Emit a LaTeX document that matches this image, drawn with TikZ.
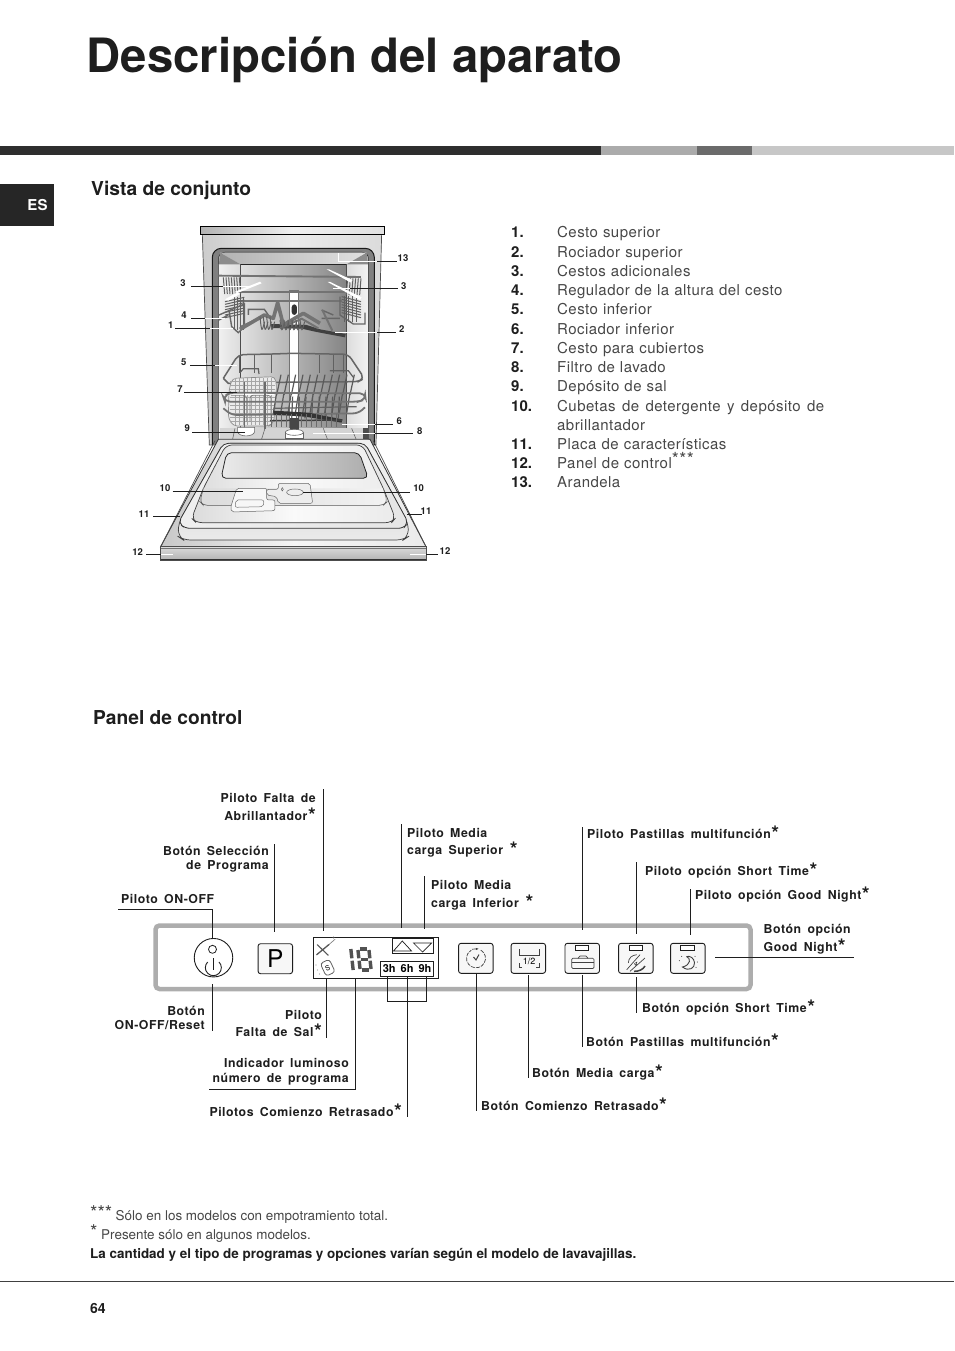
\documentclass[tikz,border=0pt]{standalone}
\usepackage{fontspec}
\setmainfont{TeX Gyre Heros}
\newfontfamily\labf[LetterSpace=4.5,WordSpace=1.6]{TeX Gyre Heros}
\newfontfamily\bodyf[LetterSpace=3,WordSpace=1.1]{TeX Gyre Heros}
\usetikzlibrary{calc,arrows.meta}
\definecolor{ink}{HTML}{1E1E1E}
\tikzset{
 leader/.style={draw=ink,line width=.8pt},
 wl/.style={draw=white,line width=.9pt},
 num/.style={font=\fontsize{9.5}{10}\selectfont\bfseries,inner sep=0pt,text=ink},
 lab/.style={font=\labf\fontsize{12.3}{14}\selectfont\bfseries,inner sep=0pt,text=ink,anchor=base west},
 labr/.style={lab,anchor=base east},
 li/.style={font=\bodyf\fontsize{15}{18}\selectfont,inner sep=0pt,anchor=base west,text=black!72},
 lin/.style={font=\fontsize{15}{18}\selectfont\bfseries,inner sep=0pt,anchor=base west,text=ink},
 head/.style={font=\fontsize{19.2}{22}\selectfont\bfseries,inner sep=0pt,anchor=base west,text=ink},
 foot/.style={font=\fontsize{13.45}{15}\selectfont,inner sep=0pt,anchor=base west,text=black!72},
 btn/.style={draw=ink,line width=.9pt,rounded corners=2.5pt,minimum width=34.5pt,minimum height=30pt,inner sep=0pt,fill=white!97!black},
 ind/.style={draw=ink,line width=.8pt,minimum width=13.5pt,minimum height=5pt,inner sep=0pt,fill=white},
 ico/.style={draw=ink!85,line width=.7pt},
 wire/.style={draw=black!62,line width=.8pt},
 wireb/.style={draw=black!60,line width=1.4pt},
 rail/.style={draw=black!55,line width=1.8pt},
 tine/.style={draw=black!65,line width=1.2pt},
}
\newcommand{\st}{\raisebox{-2pt}{\kern.5pt\fontsize{20}{20}\selectfont *}}
\newcommand{\vl}[4]{\coordinate (#1a) at (#2,#3); \coordinate (#1b) at (#2,#4); \draw[leader] (#1a) -- (#1b);}
\newcommand{\hl}[5][leader]{\coordinate (#2a) at (#3,#5); \coordinate (#2b) at (#4,#5); \draw[#1] (#2a) -- (#2b);}
\begin{document}
\begin{tikzpicture}[x=1pt,y=-1pt]
\useasboundingbox (0,0) rectangle (954,1351);
\fill[white] (0,0) rectangle (954,1351);
% Title & bars
\node[font=\fontsize{47.3}{52}\selectfont\bfseries,inner sep=0pt,anchor=base west,text=ink] (title) at (86.5,73) {Descripción del aparato};
\fill[black!82] (0,146) rectangle (601,155);
\fill[black!33] (601,146) rectangle (697,155);
\fill[black!58] (697,146) rectangle (752,155);
\fill[black!22] (752,146) rectangle (954,155);
\node[fill=black!85,minimum width=54pt,minimum height=42pt,inner sep=0pt,anchor=north west] (tab) at (0,184) {};
\node[font=\fontsize{15}{16}\selectfont\bfseries,text=white,inner sep=0pt] (es) at (37.5,205) {ES};
\node[head] (h1) at (91,196) {Vista de conjunto};
\node[head] (h2) at (93,724) {Panel de control};
% Dishwasher cabinet and tub
\begin{scope}[shift={(120,215)},x=.3333pt,y=-.3333pt]
 \shade[left color=black!20,right color=black!14,middle color=black!8,draw=black!70,line width=.7pt] (247,58) -- (785,58) -- (768,690) -- (268,690) -- cycle;
 \shade[left color=black!30,right color=black!12,middle color=black!6,draw=black,line width=.8pt] (242,35) rectangle (793,58);
 \filldraw[fill=black!50,draw=black!90,line width=1pt,rounded corners=9pt] (277,690) -- (277,100) -- (763,100) -- (763,690);
 \filldraw[fill=white!88!black,draw=black!85,line width=.7pt,rounded corners=6pt] (296,690) -- (296,112) -- (745,112) -- (745,690);
 \shade[left color=black!6,right color=black!14] (297,148) rectangle (362,672);
 \shade[left color=black!14,right color=black!5] (678,148) rectangle (744,672);
 \shade[left color=black!12,right color=black!48] (362,148) rectangle (678,640);
 \shade[left color=black!30,right color=black!12] (300,113) -- (740,113) -- (680,148) -- (362,148) -- cycle;
 \fill[black!45] (300,113) -- (362,148) -- (297,148) -- cycle;
 \fill[black!45] (740,113) -- (680,148) -- (744,148) -- cycle;
 \draw[black!85,line width=.8pt] (362,148) -- (678,148);
 \draw[black!70,line width=.6pt] (362,148) -- (362,640);
 \draw[black!70,line width=.6pt] (678,148) -- (678,640);
 \fill[white] (509,225) rectangle (536,640);
 \draw[black!55,line width=.5pt] (509,225) -- (509,640) (536,225) -- (536,640) (509,225) -- (536,225);
 \fill[black!80,rounded corners=3pt] (515,268) rectangle (531,300);
 % floor
 \fill[black!17] (300,640) -- (742,640) -- (742,672) -- (300,672) -- cycle;
 \fill[black!70] (730,640) rectangle (744,672);
 \draw[black!60,line width=.6pt] (345,640) -- (338,672) (435,640) -- (425,672) (610,640) -- (622,672) (695,640) -- (708,672);
\end{scope}
% Upper rack: coordinates of a 3x crop at (205,260)
\begin{scope}[shift={(205,260)},x=.3333pt,y=-.3333pt]
 \draw[rail,line width=1.9pt] (40,47) -- (468,51);
 \draw[rail] (95,97) -- (420,97);
 \draw[rail] (95,122) -- (410,122);
 \foreach \i in {55,63,...,105}{\draw[wire,line width=1pt] (\i,52) -- (\i+4,102);}
 \foreach \i in {428,436,...,468}{\draw[wire,line width=1pt] (\i,55) -- (\i-4,105);}
 \foreach \i in {0,8,...,48}{
  \draw[wire,line width=1pt] (60,125+\i) -- (118,112+\i);
  \draw[wire,line width=1pt] (410,110+\i) -- (468,125+\i);
 }
 \foreach \i in {88,97,106,115}{\draw[wire,line width=1pt] (\i,110) -- (\i,210);}
 \foreach \i in {420,432,444,456}{\draw[wire,line width=1pt] (\i,108) -- (\i,185);}
 \draw[wireb] (42,165) -- (118,132) -- (118,200) -- (100,218) -- (80,200) -- (72,150);
 \draw[wireb] (42,180) -- (70,165);
 \draw[wireb] (480,158) -- (480,192) -- (445,192) -- (405,165) -- (405,110);
 \draw[wireb] (130,165) -- (130,148) -- (178,148) -- (190,165);
 \draw[wireb] (350,150) -- (385,165) (350,175) -- (405,175);
 % dark spray arm
 \fill[black!75] (195,192) -- (305,195) -- (345,208) -- (422,222) -- (420,232) -- (335,216) -- (290,206) -- (200,204) -- cycle;
 % zigzag of folding rack
 \draw[black!55,line width=3.6pt,line join=round] (105,208) -- (178,165) -- (205,175) -- (218,128) -- (235,195) -- (295,160) -- (345,190);
 \draw[black!55,line width=2pt] (108,200) -- (165,174) (225,205) -- (290,176) -- (340,205) (352,150) -- (382,212);
 \foreach \i in {165,175,...,195}{\draw[black!62,line width=1pt] (\i,170) .. controls (\i+5,218) .. (\i+14,185);}
 \foreach \i in {225,237,...,285}{\draw[black!62,line width=1pt] (\i,180) .. controls (\i+5,218) .. (\i+14,185);}
 % white highlights
 \fill[white] (85,97) -- (165,65) -- (170,70) -- (100,98) -- cycle;
 \fill[white] (60,118) -- (98,96) -- (105,102) -- (70,122) -- cycle;
 \fill[white] (365,28) -- (372,28) -- (442,60) -- (438,68) -- cycle;
 \fill[white] (368,66) -- (376,66) -- (470,112) -- (465,120) -- cycle;
\end{scope}
% Lower rack: coordinates of a 3x crop at (205,350)
\begin{scope}[shift={(205,350)},x=.3333pt,y=-.3333pt]
 \foreach \i in {105,150,200,345,385,415}{\draw[wire,line width=1pt] (\i,15) -- (\i,68);}
 \draw[wire,line width=1.2pt] (105,68) -- (115,56) -- (160,56) -- (162,72);
 \draw[wire,line width=1.2pt] (375,62) -- (430,62) -- (445,82);
 \draw[wireb,line width=1.5pt,rounded corners=5pt] (55,85) -- (100,14) -- (205,12) -- (260,10) -- (430,13) -- (478,85) -- (460,95) -- (210,97);
 \draw[wireb,line width=1.5pt] (55,85) -- (70,100) -- (85,100);
 % cutlery basket
 \filldraw[fill=white!92!black,draw=black!45,line width=.7pt,rounded corners=4pt] (82,85) -- (210,80) -- (215,110) -- (206,218) -- (192,228) -- (85,228) -- (70,205) -- (72,120) -- cycle;
 \foreach \i in {92,104,...,200}{\draw[black!35,line width=.5pt] (\i,85) -- (\i,225);}
 \foreach \i in {95,107,...,220}{\draw[black!35,line width=.5pt] (74,\i) -- (210,\i);}
 \fill[white] (72,125) rectangle (208,136);
 \draw[black!50,line width=.8pt,rounded corners=3pt] (78,136) -- (125,136) -- (125,215) (135,215) -- (135,136) -- (198,136) -- (198,215);
 % plate tines
 \foreach \i in {215,237,...,435}{\draw[tine] (\i,135) -- (\i+13,74);}
 \foreach \i in {205,227,...,425}{\draw[tine] (\i,190) -- (\i+10,128);}
 \foreach \i in {260,280,...,400}{\draw[tine] (\i,205) -- (\i+3,140);}
 % middle rims
 \draw[rail,rounded corners=5pt] (55,140) -- (75,128) -- (480,130) -- (482,148) -- (460,155) -- (60,155) -- cycle;
 \draw[rail,rounded corners=5pt] (55,175) -- (80,195) -- (460,190) -- (480,172);
 \draw[wire,line width=1.2pt] (205,175) -- (455,170);
 \foreach \i in {118,180}{\draw[black!58,line width=1.4pt] (\i,95) -- (\i,238);}
 % lower spray arm
 \fill[black!80] (205,182) -- (310,188) -- (412,208) -- (410,218) -- (300,200) -- (205,194) -- cycle;
 \draw[black!75,line width=1.5pt] (195,212) -- (412,210);
 \foreach \i in {200,215,...,400}{\draw[black!58,line width=.8pt] (\i,192) -- (\i,230);}
 % sump and salt
 \fill[black!72] (255,205) rectangle (283,240);
 \filldraw[fill=white,draw=black!60,line width=.6pt] (241,247) -- (241,266) -- (296,266) -- (296,247);
 \filldraw[fill=white,draw=black!60,line width=.6pt] (268,247) ellipse (27 and 9);
 \filldraw[fill=white,draw=black!60,line width=.6pt] (98,232) -- (98,245) .. controls (100,262) and (146,262) .. (149,245) -- (149,232) -- cycle;
\end{scope}
% Door
\begin{scope}[shift={(120,420)},x=.3333pt,y=-.3333pt]
 \shade[left color=black!22,right color=black!8,middle color=black!4,draw=black!80,line width=.8pt] (295,58) -- (750,58) -- (918,380) -- (122,380) -- cycle;
 \draw[black!70,line width=.7pt] (285,62) -- (122,380) (760,62) -- (918,380);
 \shade[top color=black!22,bottom color=black!8,draw=black!75,line width=.7pt,rounded corners=7pt] (310,70) -- (735,70) -- (865,310) -- (865,350) -- (850,360) -- (190,360) -- (175,350) -- (175,310) -- cycle;
 \shade[left color=black!6,right color=black!10,draw=black!80,line width=.8pt,rounded corners=5pt] (175,308) -- (195,325) -- (850,325) -- (865,308) -- (735,70) -- (310,70) -- cycle;
 \shade[left color=black!14,right color=black!8,middle color=black!2,draw=black!75,line width=.7pt,rounded corners=6pt] (318,75) -- (728,75) -- (790,205) -- (826,295) -- (815,308) -- (228,308) -- (215,295) -- (250,205) -- cycle;
 \shade[left color=black!14,right color=black!5,draw=black!65,line width=.6pt,rounded corners=4pt] (250,205) -- (240,245) -- (250,256) -- (790,256) -- (802,245) -- (790,205);
 \shade[left color=black!8,right color=black!32,draw=black!85,line width=.8pt,rounded corners=5pt] (320,98) -- (718,98) -- (745,175) -- (303,175) -- cycle;
 \filldraw[fill=black!3,draw=black!60,line width=.5pt,rounded corners=2pt] (350,205) -- (440,205) -- (440,240) -- (465,240) -- (465,272) -- (335,276) -- (332,262) -- cycle;
 \filldraw[fill=black!7,draw=black!60,line width=.5pt,rounded corners=2pt] (475,190) -- (570,190) -- (578,250) -- (475,250) -- (470,230) -- (440,225) -- (440,208) -- (475,208) -- cycle;
 \draw[black!55,line width=.5pt,rounded corners=2pt] (348,240) -- (432,240) -- (430,260) -- (345,262) -- cycle;
 \draw[black!60,line width=.5pt] (525,217) ellipse (25 and 10);
 \draw[black!60,line width=.5pt] (487,208) ellipse (3 and 5);
 \shade[top color=black!14,bottom color=black!30,draw=black!70,line width=.7pt] (122,380) rectangle (918,420);
 \draw[black!80,line width=1pt] (122,420) -- (918,420);
 \draw[black!55,line width=.6pt] (122,385) -- (918,385);
\end{scope}
% Dishwasher numbers and leaders
\node[num] (n13) at (403,258) {13};
\coordinate (p13) at (338.3,253); \coordinate (q13) at (338.3,261.7); \coordinate (r13) at (396.7,261.7);
\draw[wl] (p13) -- (q13) -- (r13); \draw[leader] (377,261.7) -- (r13);
\node[num] (n3l) at (183,283) {3};
\hl{a3}{191}{253}{286} \draw[wl] (223,286) -- (253,286);
\node[num] (n3r) at (403.7,285.7) {3};
\hl{b3}{333}{398}{288} \draw[wl] (333,288) -- (350,288);
\node[num] (n4) at (184,315) {4};
\hl{a4}{191}{225}{318.7} \draw[wl] (205,318.7) -- (225,318.7);
\node[num] (n1) at (170.7,325) {1};
\hl{a1}{175}{233}{328.3} \draw[wl] (210,328.3) -- (233,328.3);
\node[num] (n2) at (401.7,329) {2};
\hl{a2}{335}{396}{332} \draw[wl] (335,332) -- (377,332);
\node[num] (n5) at (183.7,362) {5};
\hl{a5}{190}{237}{365.3} \draw[wl] (215,365.3) -- (237,365.3);
\node[num] (n7) at (180,389.3) {7};
\hl{a7}{184}{237}{392.3}
\node[num] (n9) at (187.3,428.3) {9};
\hl{a9}{192}{245}{432.3}
\node[num] (n6) at (399.3,421.3) {6};
\hl{a6}{341.7}{393}{424.3} \draw[wl] (341.7,424.3) -- (375,424.3);
\node[num] (n8) at (419.7,431) {8};
\hl{a8}{313}{413}{433} \draw[wl] (313,433) -- (375,433);
\node[num] (n10l) at (165,487.7) {10};
\hl{a10}{172.7}{243}{491}
\node[num] (n10r) at (418.7,488) {10};
\hl{b10}{303}{410}{492}
\node[num] (n11l) at (144,514.3) {11};
\hl{a11}{153}{180}{516.3}
\node[num] (n11r) at (426,510.7) {11};
\hl{b11}{406.7}{421.7}{514}
\node[num] (n12l) at (137.7,551.7) {12};
\hl{a12}{146}{173}{554.7} \draw[wl] (161,554.7) -- (173,554.7);
\node[num] (n12r) at (445,551) {12};
\hl{b12}{410}{438}{554} \draw[wl] (410,554) -- (426,554);
% List
\foreach \y/\n/\t in {237/1./Cesto superior,257/2./Rociador superior,276/3./Cestos adicionales,295/4./Regulador de la altura del cesto,314/5./Cesto inferior,334/6./Rociador inferior,353/7./Cesto para cubiertos,372/8./Filtro de lavado,391/9./Depósito de sal,449/11./Placa de características,487/13./Arandela}{
 \node[lin] at (511,\y) {\n};
 \node[li] at (557,\y) {\t};
}
\node[lin] (n10x) at (511,411) {10.};
\node[li] (l10a) at (557,411) {\spaceskip=6.4pt Cubetas de detergente y depósito de};
\node[li] (l10b) at (557,430) {abrillantador};
\node[lin] (n12x) at (511,468) {12.};
\node[li] (l12) at (557,468) {Panel de control\raisebox{2.5pt}{\fontsize{18}{18}\selectfont***}};
% Panel
\node[draw=black!32,line width=4.5pt,rounded corners=4pt,minimum width=595pt,minimum height=63.5pt,inner sep=0pt,outer sep=0pt,anchor=north west] (panel) at (155.5,925.5) {};
\node[draw=ink,line width=.9pt,circle,minimum size=38.5pt,inner sep=0pt] (bon) at (213.5,957.7) {};
\node[draw=ink,line width=.8pt,circle,minimum size=8pt,inner sep=0pt] (lon) at (212.5,949.3) {};
\draw[ink,line width=.9pt] (219,962) arc (-45:225:8);
\draw[ink,line width=.9pt] (213.3,958.3) -- (213.3,970);
\node[btn] (bP) at (275.3,958.7) {\fontsize{24.5}{25}\selectfont P};
% Display
\node[draw=ink,line width=1pt,minimum width=125pt,minimum height=41.6pt,inner sep=0pt,anchor=north west] (disp) at (313.3,936.7) {};
\node[draw=ink,line width=.9pt,minimum width=41pt,minimum height=15pt,inner sep=0pt,anchor=north west] (arrbox) at (391.7,938.3) {};
\draw[ink,line width=.7pt] (393.5,951) -- (411.5,951) -- (402.3,941) -- cycle;
\draw[ink,line width=.7pt] (413.5,943) -- (431.5,943) -- (422.5,952) -- cycle;
\node[draw=ink,line width=.9pt,minimum width=53.3pt,minimum height=14.3pt,inner sep=0pt,anchor=north west,font=\fontsize{11}{11}\selectfont\bfseries] (hbox) at (380,961.3) {3h\kern5pt 6h\kern5pt 9h};
\draw[ink!75,line width=1.3pt,line cap=round] (316.7,954.7) -- (329,944.5);
\draw[ink!55,line width=.7pt,line cap=round] (329,944.5) -- (335,939.3);
\draw[ink!75,line width=1.1pt,line cap=round] (317.3,944.7) -- (328.3,955.3);
\node[font=\fontsize{6}{6}\selectfont,inner sep=0pt,text=ink!70] (plus) at (333.5,938.5) {+};
\node[draw=ink!70,line width=.8pt,rounded corners=3pt,minimum width=10pt,minimum height=14pt,inner sep=0pt,rotate=25,font=\fontsize{7}{7}\selectfont] (salt) at (327.7,967.7) {S};
\foreach \a/\b in {316/965,317.5/970,319.5/974}{\fill[ink!45] (\a,\b) circle (.55);}
% 18 seven segments
\begin{scope}[shift={(352,959.5)},black!68,line width=3.4pt,xslant=-.11]
 \draw (0,-10.5) -- (0,-1.2) (0,1.2) -- (0,10.5);
 \draw (7,-9.5) -- (7,-1.2) (7,1.2) -- (7,9.5) (18,-9.5) -- (18,-1.2) (18,1.2) -- (18,9.5);
 \draw (9,-10.5) -- (16,-10.5) (9,0) -- (16,0) (9,10.5) -- (16,10.5);
\end{scope}
% Buttons
\node[btn] (bC) at (475.8,958.3) {};
\draw[ico,dash pattern=on 4pt off 1.2pt] (476,958.3) ++(-60:9.5) arc (-60:240:9.5);
\draw[ico,-{Latex[length=3pt]}] (472,949.2) -- (479,948.8);
\draw[ico,line width=1pt] (473.5,957) -- (476,960) -- (479,954.5);
\node[btn] (bM) at (528.3,958.3) {};
\node[font=\fontsize{9}{9}\selectfont,inner sep=0pt] (half) at (529,961) {1/2};
\draw[ico] (519,949.3) -- (519,955) -- (539,955) -- (539,949.3);
\draw[ico] (522,967.3) -- (519,967.3) -- (519,963.3);
\draw[ico] (536,967.3) -- (539,967.3) -- (539,963.3);
\node[btn] (bT) at (582.2,958.3) {};
\node[ind] (iT) at (581.7,948) {};
\draw[ico,rounded corners=1.2pt] (571.7,958.3) rectangle (594,968.5);
\draw[ico] (571.7,962.5) -- (594,962.5);
\draw[ico] (578,958.3) -- (580,956) -- (586,956) -- (588,958.3);
\node[btn] (bS) at (635.8,958.3) {};
\node[ind] (iS) at (636,948) {};
\draw[ico] (626.7,969.7) -- (640,954.7) (630,971.3) -- (645,958);
\draw[ico] (628.3,963) .. controls (628.5,958) and (632,955) .. (636.7,954.7);
\draw[ico,line width=1.5pt] (634,971.3) .. controls (639,971.5) and (643,969.5) .. (645,966);
\node[font=\fontsize{6}{6}\selectfont,inner sep=0pt,rotate=-20] (sn) at (636,964) {4};
\node[btn] (bG) at (687.8,958.3) {};
\node[ind] (iG) at (687.5,948) {};
\draw[ico,line width=.9pt] (686.5,956.5) .. controls (691,958) and (691,965) .. (682.5,967) .. controls (689,972) and (695,968) .. (694.5,962.5) .. controls (694,958) and (690,955.5) .. (686.5,956.5);
\foreach \a/\b in {679.3/960.7,681.7/956.3,695/956.3,697.3/962,696/967.3}{\fill[ink] (\a,\b) circle (.5);}
% Leaders above
\coordinate (on0) at (118,909); \coordinate (on1) at (212.5,909); \coordinate (on2) at (212.5,938);
\draw[leader] (on0) -- (on1) -- (on2);
\vl{sel}{274.3}{844}{932}
\vl{fal}{323.5}{789}{931}
\vl{sup}{401.6}{824}{928}
\vl{inf}{424.3}{876}{929}
\vl{pas}{582.4}{827}{930}
\vl{sho}{636.3}{862}{934}
\vl{goo}{690}{889}{935}
\hl{gob}{715}{854}{957.7}
% Leaders below
\vl{res}{212.5}{984}{1031}
\vl{sal}{326.5}{979}{1038}
\coordinate (ind0) at (355.5,979); \coordinate (ind1) at (355.5,1089.5); \coordinate (ind2) at (209,1089.5);
\draw[leader] (ind0) -- (ind1) -- (ind2);
\vl{ret}{407.3}{976}{1117}
\coordinate (br0) at (387.3,976); \coordinate (br1) at (387.3,1001); \coordinate (br2) at (426.7,1001); \coordinate (br3) at (426.7,976);
\draw[leader] (br0) -- (br1) -- (br2) -- (br3);
\vl{bco}{476}{974}{1111}
\vl{bme}{528.3}{975}{1078}
\vl{bpa}{582.4}{975}{1047}
\vl{bsh}{636.2}{977}{1013}
% Panel labels
\node[labr] (t1a) at (316,802) {Piloto Falta de};
\node[labr] (t1b) at (316,820) {Abrillantador\st};
\node[labr] (t2a) at (269,855) {Botón Selección};
\node[labr] (t2b) at (269,869) {de Programa};
\node[lab] (t3) at (121,903) {Piloto ON-OFF};
\node[lab] (t4a) at (407,837) {Piloto Media};
\node[lab] (t4b) at (407,854) {carga Superior \st};
\node[lab] (t5a) at (431,889) {Piloto Media};
\node[lab] (t5b) at (431,907) {carga Inferior \st};
\node[lab] (t6) at (587,838) {Piloto Pastillas multifunción\st};
\node[lab] (t7) at (645,875) {Piloto opción Short Time\st};
\node[lab] (t8) at (695,899) {Piloto opción Good Night\st};
\node[lab] (t9a) at (763.5,933) {Botón opción};
\node[lab] (t9b) at (763.5,951) {Good Night\st};
\node[labr] (t10a) at (205,1015) {Botón};
\node[labr] (t10b) at (205,1029) {ON-OFF/Reset};
\node[labr] (t11a) at (322,1019) {Piloto};
\node[labr] (t11b) at (322,1036) {Falta de Sal\st};
\node[labr] (t12a) at (349,1067) {Indicador luminoso};
\node[labr] (t12b) at (349,1082) {número de programa};
\node[labr] (t13) at (402,1116) {Pilotos Comienzo Retrasado\st};
\node[lab] (t14) at (481,1110) {Botón Comienzo Retrasado\st};
\node[lab] (t15) at (532,1077) {Botón Media carga\st};
\node[lab] (t16) at (586,1046) {Botón Pastillas multifunción\st};
\node[lab] (t17) at (642,1012) {Botón opción Short Time\st};
% Footer
\node[foot,font=\fontsize{19}{19}\selectfont] (f1s) at (90,1219) {***};
\node[foot] (f1) at (115.5,1220) {Sólo en los modelos con empotramiento total.};
\node[foot,font=\fontsize{19}{19}\selectfont] (f2s) at (90,1238) {*};
\node[foot] (f2) at (101,1239) {Presente sólo en algunos modelos.};
\node[foot,font=\fontsize{13.45}{15}\selectfont\bfseries,text=ink] (f3) at (90,1258) {La cantidad y el tipo de programas y opciones varían según el modelo de lavavajillas.};
\draw[black!75,line width=.8pt] (0,1281.5) -- (954,1281.5);
\node[foot,font=\fontsize{14}{15}\selectfont\bfseries,text=ink] (pg) at (90,1313) {64};
\end{tikzpicture}
\end{document}
